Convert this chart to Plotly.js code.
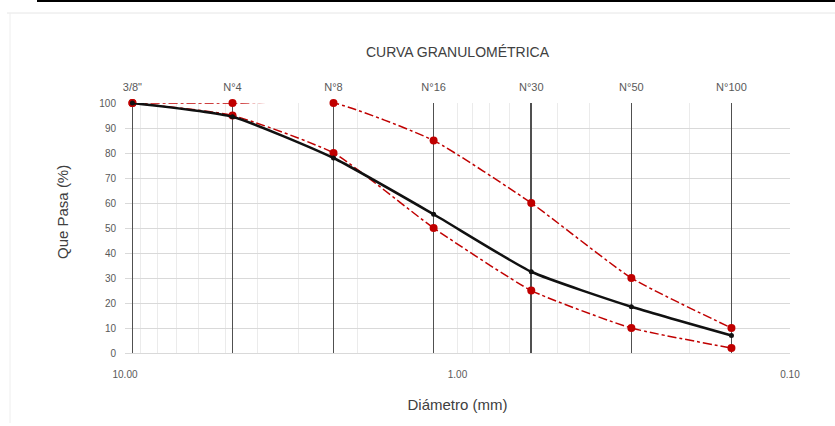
<!DOCTYPE html>
<html>
<head>
<meta charset="utf-8">
<script src="https://cdn.plot.ly/plotly-3.0.1.min.js"></script>
<style>html,body{margin:0;padding:0;background:#fff;}#chart{width:835px;height:426px;}</style>
</head>
<body>
<div id="chart"></div>
<script>
// Sieve openings (mm) and names
const sieveNames = ['3/8"', 'N°4', 'N°8', 'N°16', 'N°30', 'N°50', 'N°100'];
const sieveSizes = [9.5, 4.75, 2.36, 1.18, 0.6, 0.3, 0.15];
// % passing
const muestra = [100, 94.5, 78, 55.5, 32.5, 18.5, 7];
const limiteSuperior = [100, 100, 100, 85, 60, 30, 10];
const limiteInferior = [100, 95, 80, 50, 25, 10, 2];
// bottom axis ticks (log decades + minor grid positions)
const decadeTicks = [10, 1, 0.1];
const decadeLabels = ['10.00', '1.00', '0.10'];
const minorTicks = [9, 8, 7, 6, 5, 4, 3, 2, 0.9, 0.8, 0.7, 0.6, 0.5, 0.4, 0.3, 0.2];
const yTicks = [0, 10, 20, 30, 40, 50, 60, 70, 80, 90, 100];

const red = '#c00000';
const fontFam = 'Liberation Sans, Arial, sans-serif';

const traces = [
  {x: sieveSizes, y: limiteSuperior, mode: 'lines+markers', name: 'Límite superior',
   line: {color: red, width: 1.5, dash: 'dashdot', shape: 'spline', smoothing: 0.5},
   marker: {color: red, size: 8}, cliponaxis: false},
  {x: sieveSizes, y: limiteInferior, mode: 'lines+markers', name: 'Límite inferior',
   line: {color: red, width: 1.5, dash: 'dashdot', shape: 'spline', smoothing: 0.5},
   marker: {color: red, size: 8}, cliponaxis: false},
  {x: sieveSizes, y: muestra, mode: 'lines+markers', name: 'Muestra', xaxis: 'x2',
   line: {color: '#111111', width: 2.5, shape: 'spline', smoothing: 0.5},
   marker: {color: '#111111', size: 5}, cliponaxis: false}
];

const allTicks = decadeTicks.concat(minorTicks);
const allLabels = decadeLabels.concat(minorTicks.map(() => ''));

const layout = {
  width: 835, height: 426,
  margin: {l: 125, r: 45, t: 103, b: 73},
  paper_bgcolor: '#ffffff', plot_bgcolor: '#ffffff',
  showlegend: false,
  font: {family: fontFam, color: '#595959', size: 10},
  title: {text: 'CURVA GRANULOMÉTRICA', x: 0.5, xref: 'paper', y: 0.89, yref: 'container',
          font: {family: fontFam, size: 14, color: '#404040'}},
  xaxis: {
    type: 'log', range: [1, -1], tickmode: 'array', tickvals: allTicks, ticktext: allLabels,
    showgrid: true, gridcolor: '#ebebeb', gridwidth: 1, zeroline: false,
    showline: true, linecolor: '#d9d9d9', linewidth: 1, ticks: '',
    ticklabelstandoff: 12, tickfont: {size: 10, color: '#595959'},
    title: {text: 'Diámetro (mm)', standoff: 20, font: {size: 15, color: '#404040'}}
  },
  xaxis2: {
    type: 'log', range: [1, -1], overlaying: 'x', side: 'top', tickmode: 'array',
    tickvals: sieveSizes, ticktext: sieveNames, showgrid: true, gridcolor: '#505050', gridwidth: 1.6,
    zeroline: false, showline: false, ticks: '', ticklabelstandoff: 9,
    tickfont: {size: 11, color: '#595959'}
  },
  yaxis: {
    range: [0, 100], tickmode: 'array', tickvals: yTicks, showgrid: true, gridcolor: '#d9d9d9',
    zeroline: false, showline: false, ticks: '', ticklabelstandoff: 8,
    tickfont: {size: 10, color: '#595959'}
  },
  annotations: [
    {text: 'Que Pasa (%)', textangle: -90, xref: 'paper', yref: 'paper',
     x: (62-125)/665, y: (353-212)/250, xanchor: 'center', yanchor: 'middle', showarrow: false,
     font: {size: 15, color: '#404040'}}
  ],
  shapes: [
    {type: 'line', xref: 'paper', yref: 'paper', x0: (37-125)/665, x1: (835-125)/665,
     y0: (426-73-1)/250, y1: (426-73-1)/250, line: {color: '#000000', width: 2}},
    {type: 'line', xref: 'paper', yref: 'paper', x0: (7-125)/665, x1: (835-125)/665,
     y0: (353-13)/250, y1: (353-13)/250, line: {color: '#e6e6e6', width: 1}},
    {type: 'line', xref: 'paper', yref: 'paper', x0: (10-125)/665, x1: (10-125)/665,
     y0: (353-13)/250, y1: (353-423)/250, line: {color: '#eeeeee', width: 1}}
  ]
};

Plotly.newPlot('chart', traces, layout, {displayModeBar: false, staticPlot: true});
</script>
</body>
</html>
